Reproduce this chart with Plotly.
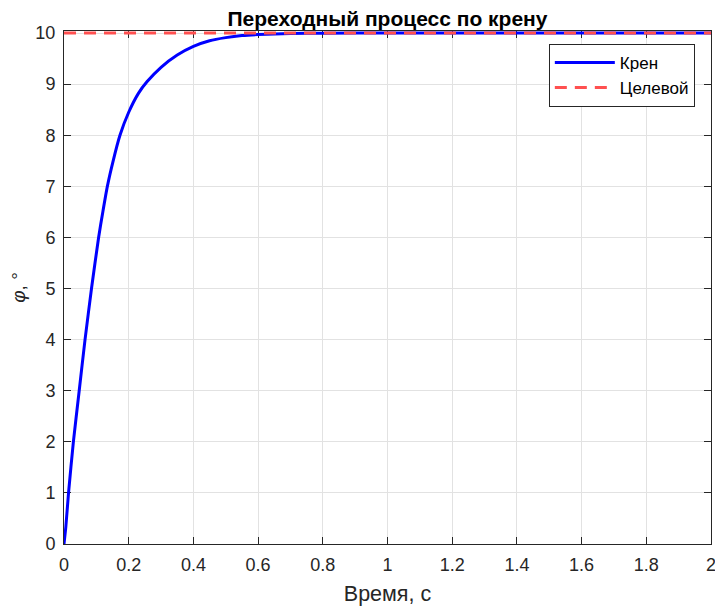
import plotly.graph_objects as go

# данные
t = [0, 0.0056, 0.014, 0.029, 0.047, 0.065, 0.085, 0.107, 0.12, 0.134, 0.152, 0.173,
     0.2, 0.23, 0.257, 0.3, 0.35, 0.4, 0.45, 0.5, 0.55, 0.6, 0.7, 0.8, 1.0, 1.2, 1.5, 2.0]
kren = [0, 0.33, 1, 2, 3, 4, 5, 6, 6.5, 7, 7.5, 8,
        8.45, 8.82, 9.05, 9.33, 9.57, 9.74, 9.85, 9.91, 9.95, 9.97, 9.99, 9.997, 10, 10, 10, 10]
t_cel = [0, 2]
cel = [10, 10]

fig = go.Figure()
fig.add_trace(go.Scatter(x=t, y=kren, mode='lines', name='Крен',
                         line=dict(color='#0000ff', width=3, shape='spline', smoothing=0.5)))
fig.add_trace(go.Scatter(x=t_cel, y=cel, mode='lines', name='Целевой',
                         line=dict(color='#ff5050', width=3, dash='12px,8px')))

osi = dict(showline=True, linecolor='#262626', linewidth=1, mirror='ticks',
           ticks='inside', ticklen=7, tickcolor='#262626', automargin=False,
           showgrid=True, gridcolor='#e2e2e2', gridwidth=1, zeroline=False,
           layer='below traces',
           ticklabelstandoff=4, tickfont=dict(size=18, color='#262626'))

fig.update_xaxes(range=[0, 2], dtick=0.2, title=dict(text='Время, с', font=dict(size=21.5, color='#262626'), standoff=12), **osi)
# чуть выше 10, чтобы линия на уровне 10 не обрезалась наполовину
fig.update_yaxes(range=[0, 10.04], tick0=0, dtick=1, title=dict(text='<i>φ</i>, °', font=dict(size=19, color='#262626'), standoff=7), **osi)

# страница сдвинута на 8px (отступ body), поэтому фигура чуть меньше окна
fig.update_layout(
    width=715, height=605,
    title=dict(text='<b>Переходный процесс по крену</b>', x=0.5, xref='paper', xanchor='center',
               y=0.982, yanchor='middle', font=dict(size=21, color='black')),
    font=dict(family='Liberation Sans, Arial, sans-serif'),
    paper_bgcolor='white', plot_bgcolor='white',
    margin=dict(l=56, r=12, t=23, b=69),
    legend=dict(x=0.975, y=0.975, xanchor='right', yanchor='top',
                bgcolor='white', bordercolor='#262626', borderwidth=1,
                font=dict(size=17, color='black'), itemwidth=60, tracegroupgap=0),
    showlegend=True,
)

fig.write_html("out.html")
